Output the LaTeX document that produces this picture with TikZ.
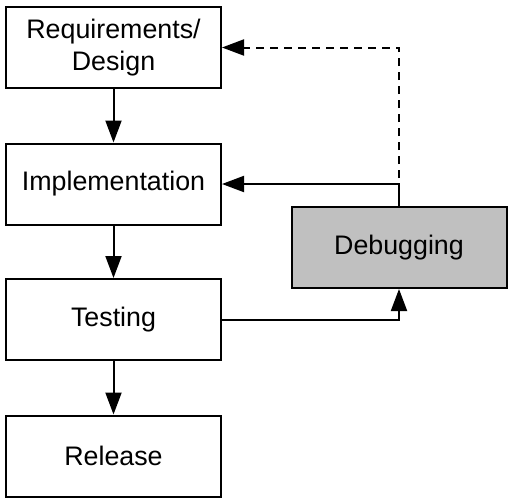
\documentclass[tikz,border=0pt]{standalone}
\usepackage{fontspec}
\setmainfont{Liberation Sans}
\usepackage{tikz}
\usetikzlibrary{positioning,arrows.meta}
\definecolor{debuggray}{RGB}{192,192,192}

\begin{document}
\begin{tikzpicture}[x=0.5pt, y=-0.5pt, line width=1pt, >={Triangle[length=11pt,width=8pt]},
    phase/.style={draw, fill=white, minimum width=107.5pt, minimum height=40.5pt, align=center, inner sep=0pt, font=\fontsize{13.4}{16}\selectfont}]
        \useasboundingbox (0,0) rectangle (510,499);

        % Phase boxes
        \node[phase] (req) at (113.5,47.5) {Requirements/\\Design};
        \node[phase] (impl) at (113.5,184) {Implementation};
        \node[phase] (test) at (113.5,319.5) {Testing};
        \node[phase] (rel) at (113.5,456) {Release};
        \node[phase, fill=debuggray] (debug) at (399,247.5) {Debugging};

        % Main flow
        \draw[->] (req) -- (impl);
        \draw[->] (impl) -- (test);
        \draw[->] (test) -- (rel);

        % Debugging loop
        \draw[->] (test.east) -| (debug.south);
        \draw[->] (debug.north) |- (impl.east);
        \draw[->, dash pattern=on 4pt off 3pt] (debug.north) |- (req.east);
    \end{tikzpicture}
\end{document}
